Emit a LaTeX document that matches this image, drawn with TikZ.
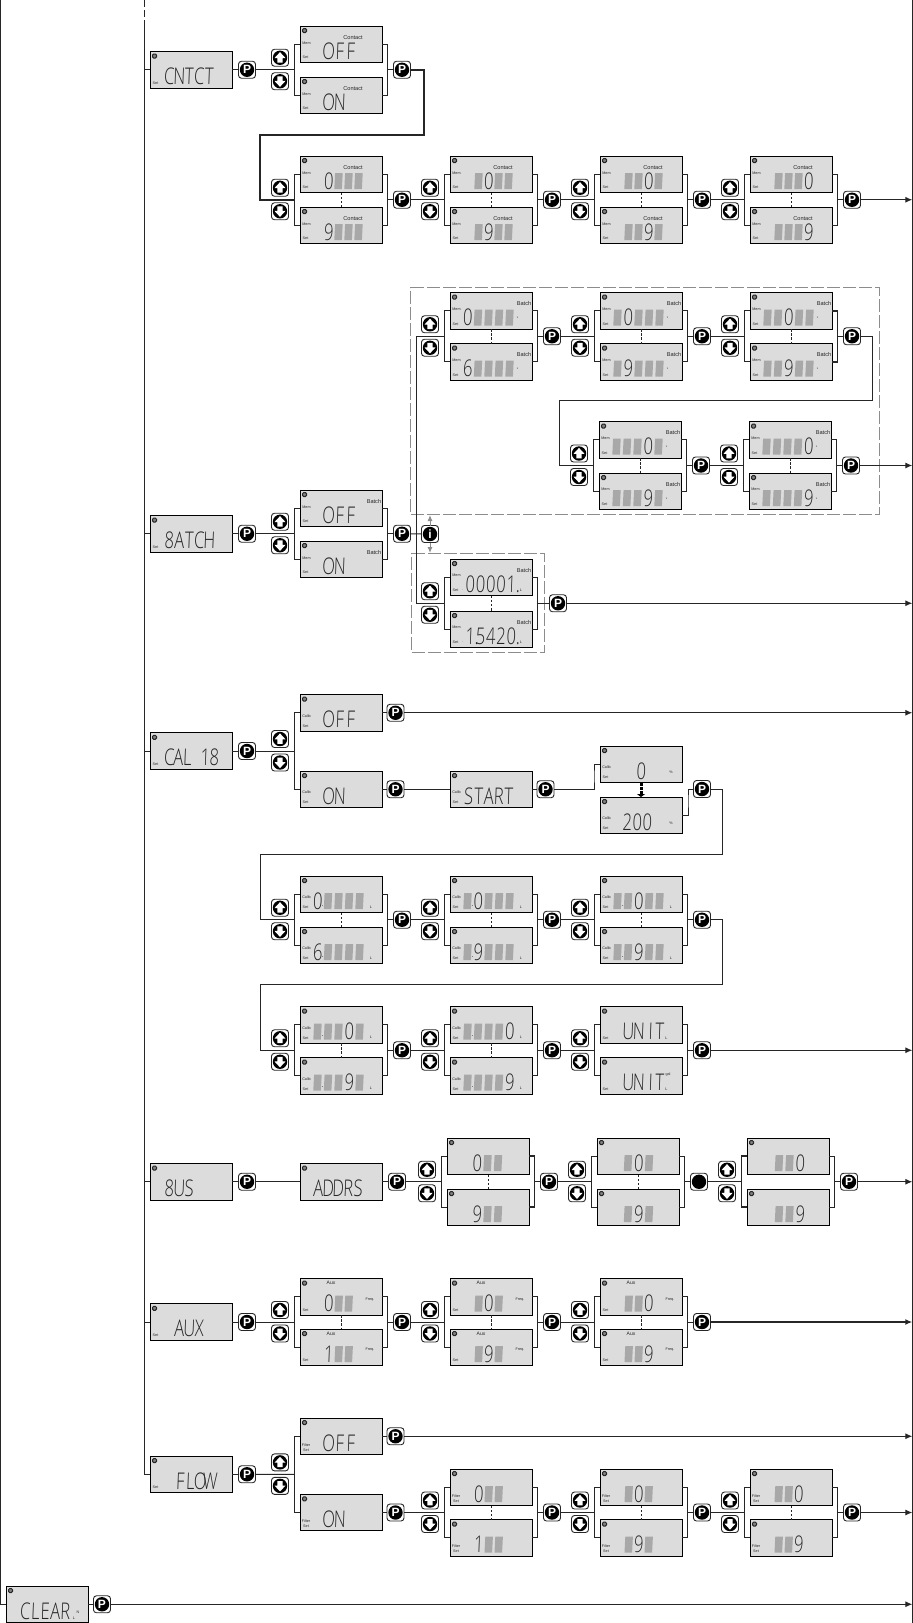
\documentclass[tikz,border=0pt]{standalone}
\usepackage{fontspec}
\usepackage{graphicx}
\setmainfont{Liberation Sans}
\newfontfamily\lcdf[FakeSlant=0.05]{Open Sans Light}
\usetikzlibrary{calc,arrows.meta}
\definecolor{ink}{HTML}{262626}
\definecolor{lcdbg}{HTML}{DCDCDC}
\definecolor{segc}{HTML}{A8A8A8}
\definecolor{dashc}{HTML}{8C8C8C}
\tikzset{
  wire/.style={draw=ink,line width=1pt,line join=miter},
  heavy/.style={draw=ink,line width=1.7pt},
  arrowwire/.style={wire,-{Latex[length=7pt,width=6pt]}},
  lcdbox/.style={draw=black,fill=lcdbg,line width=0.9pt,minimum width=82pt,minimum height=36.5pt,inner sep=0pt,outer sep=0pt},
  cornerdot/.style={rectangle,rounded corners=1.2pt,draw=ink,fill=gray,line width=1pt,minimum size=4pt,inner sep=0pt},
  seg/.style={fill=segc},
  lcdtxt/.style={font=\fontsize{23}{23}\lcdf,text=ink,inner sep=0pt,anchor=base},
  lbl/.style={font=\fontsize{3.7}{4}\selectfont,text=ink,inner sep=0pt},
  toplbl/.style={font=\fontsize{5.6}{6}\selectfont,text=ink,inner sep=0pt},
  btnbox/.style={rectangle,rounded corners=3pt,draw=ink,fill=white,line width=.9pt,minimum size=17pt,inner sep=0pt,outer sep=0pt},
  btntxt/.style={text=white,font=\fontsize{12}{12}\selectfont\bfseries,inner sep=0pt},
  dbox/.style={draw=dashc,line width=1pt,dash pattern=on 13pt off 3pt,anchor=north west,inner sep=0pt},
  dashlink/.style={draw=ink,line width=.9pt,dash pattern=on 2.5pt off 1.7pt},
}
\newcount\lbc
\newcommand\lab[4][lbl]{\global\advance\lbc by 1 \node[#1] (lb\the\lbc) at (#2,#3) {#4};}
\def\blankc{-}
% display: name,x,y,decor,start,pitch,cells
\newcommand\lcd[7]{%
  \node[lcdbox,anchor=north west] (#1) at (#2,#3) {};
  \begin{scope}[shift={(#2,#3)}]
    \node[cornerdot] (#1-k) at (4.5,4.5) {};
    \foreach \cc [count=\ii from 0] in {#7}{%
      \pgfmathsetmacro\lcdx{#5+#6*\ii}%
      \ifx\cc\blankc
        \fill[seg,shift={(\lcdx,25)}] (-4.2,8) -- (3.4,8) -- (4.2,-8) -- (-3.4,-8) -- cycle;
      \else
        \node[lcdtxt] (#1-d\ii) at (\lcdx,33) {\scalebox{.72}[1]{\cc}};
      \fi}
    #4
  \end{scope}}
\newcommand\dS{\lab{5.5}{31.5}{Set}}
\newcommand\dN{}
\newcommand\dC{\lab{6.5}{17}{Mem}\dS\lab[toplbl]{53}{12}{Contact}}
\newcommand\dB{\lab{6.5}{16.5}{Mem}\dS\lab[toplbl]{74}{11}{Batch}\lab{67.5}{26}{*}}
\newcommand\dBL{\lab{6.5}{16.5}{Mem}\dS\lab[toplbl]{74}{11}{Batch}\lab{71}{31}{L}}
\newcommand\dK{\lab{6.5}{21.5}{Calib}\dS}
\newcommand\dKL{\dK\lab{71}{31}{L}\lab[lbl,font=\fontsize{7}{7}\selectfont]{22.5}{30}{.}}
\newcommand\dKP{\dK\lab{71}{26.5}{\%}}
\newcommand\dF{\lab{6}{27}{Filter}\lab{6}{32}{Set}}
\newcommand\dA{\dS\lab[lbl,font=\fontsize{5}{5}\selectfont]{31}{4.5}{Aux}\lab{70}{21}{Freq.}}
% buttons
\newcommand\pb[2]{\node[btnbox] (#1) at #2 {}; \fill[black] (#1.center) circle (7.2pt);
  \node[btntxt] (#1-t) at (#1.center) {P};}
\newcommand\ib[2]{\node[btnbox] (#1) at #2 {}; \fill[black] (#1.center) circle (7.2pt);
  \node[btntxt] (#1-t) at (#1.center) {i};}
\newcommand\kb[2]{\node[btnbox] (#1) at #2 {}; \fill[black] (#1.center) circle (7.2pt);}
\newcommand\upb[2]{\node[btnbox] (#1) at #2 {}; \fill[black] (#1.center) circle (7.2pt);
  \begin{scope}[shift={(#1.center)}]
    \fill[white] (0,-5.6) -- (5.5,0.3) -- (2.6,0.3) -- (2.6,4.8) -- (-2.6,4.8) -- (-2.6,0.3) -- (-5.5,0.3) -- cycle;
  \end{scope}}
\newcommand\dnb[2]{\node[btnbox] (#1) at #2 {}; \fill[black] (#1.center) circle (7.2pt);
  \begin{scope}[shift={(#1.center)}]
    \fill[white] (0,5.6) -- (5.5,-0.3) -- (2.6,-0.3) -- (2.6,-4.8) -- (-2.6,-4.8) -- (-2.6,-0.3) -- (-5.5,-0.3) -- cycle;
  \end{scope}}
% pair: name,x,y1,y2,decor,start,pitch,A,B
\newcommand\pairbase[9]{%
  \lcd{#1-a}{#2}{#3}{#5}{#6}{#7}{#8}
  \lcd{#1-b}{#2}{#4}{#5}{#6}{#7}{#9}
  \coordinate (#1-j) at ($(#1-a.south)!.5!(#1-b.north)$);
  \coordinate (#1-l) at ($(#1-j)+(-46.5,0)$);
  \coordinate (#1-r) at ($(#1-j)+(46.5,0)$);
  \draw[wire] (#1-a.west) -| (#1-l) |- (#1-b.west);
  \upb{#1-up}{($(#1-j)+(-61,-12)$)}
  \dnb{#1-dn}{($(#1-j)+(-61,11.5)$)}}
\newcommand\rbr[1]{\draw[wire] (#1-a.east) -| (#1-r) |- (#1-b.east);}
\newcommand\plink[1]{\draw[dashlink] (#1-a.south) -- (#1-b.north);}
\newcommand\pair[9]{\pairbase{#1}{#2}{#3}{#4}{#5}{#6}{#7}{#8}{#9}\rbr{#1}\plink{#1}}
\newcommand\pnext[1]{\pb{p#1}{($(#1-j)+(61,0)$)}\draw[wire] (#1-r) -- (p#1.west);}
\newcommand\toR[1]{\draw[arrowwire] (#1) -- (#1 -| rr);}
\begin{document}
\begin{tikzpicture}[x=1pt,y=-1pt]
\useasboundingbox (0,0) rectangle (913,1623);
\coordinate (rr) at (912.3,0);
\coordinate (rb) at (912.3,1623);
\coordinate (ft) at (0.7,0);
\coordinate (lt0) at (144,0);
\coordinate (lt) at (144,20);
\draw[wire,dash pattern=on 7pt off 3pt] (lt0) -- (lt);
\draw[wire] (rr) -- (rb);

%% CNTCT
\lcd{m1}{150}{51.5}{\dS}{19}{10}{C,N,T,C,T}
\pb{pm1}{($(m1.east)+(15,0)$)}
\pairbase{c1}{300}{26}{77}{\dC}{28.5}{11}{O,F,F}{O,N}\rbr{c1}
\pnext{c1}
\pair{c2}{300}{156}{207}{\dC}{28.5}{10}{0,-,-,-}{9,-,-,-}\pnext{c2}
\pair{c3}{450}{156}{207}{\dC}{28.5}{10}{-,0,-,-}{-,9,-,-}\pnext{c3}
\pair{c4}{600}{156}{207}{\dC}{28.5}{10}{-,-,0,-}{-,-,9,-}\pnext{c4}
\pair{c5}{750}{156}{207}{\dC}{28.5}{10}{-,-,-,0}{-,-,-,9}\pnext{c5}
\draw[wire] (m1.east) -- (pm1.west);
\draw[wire] (pm1.east) -- (c1-l);
\coordinate (k1) at (424,135);
\coordinate (k2) at (260,135);
\draw[heavy] (pc1.east) -| (k1) -- (k2) |- (c2-l);
\draw[wire] (pc2.east) -- (c3-l);
\draw[wire] (pc3.east) -- (c4-l);
\draw[wire] (pc4.east) -- (c5-l);
\toR{pc5.east}

%% BATCH
\node[dbox,minimum width=469pt,minimum height=227pt] (bx1) at (410,287) {};
\node[dbox,minimum width=133pt,minimum height=99pt] (bx2) at (411,553) {};
\lcd{m2}{150}{515.5}{\dS}{19}{10}{8,A,T,C,H}
\pb{pm2}{($(m2.east)+(15,0)$)}
\pairbase{b0}{300}{490}{541}{\lab{6.5}{17}{Mem}\dS\lab[toplbl]{74}{11}{Batch}}{28.5}{11}{O,F,F}{O,N}\rbr{b0}
\pnext{b0}
\pair{b1}{450}{292.5}{343.5}{\dB}{17.5}{10.5}{0,-,-,-,-}{6,-,-,-,-}\pnext{b1}
\pair{b2}{600}{292.5}{343.5}{\dB}{17.5}{10.5}{-,0,-,-,-}{-,9,-,-,-}\pnext{b2}
\pair{b3}{750}{292.5}{343.5}{\dB}{17.5}{10.5}{-,-,0,-,-}{-,-,9,-,-}\pnext{b3}
\draw[heavy] (b3-a.east) -| (b3-r) |- (b3-b.east);
\pair{b4}{599}{421.5}{473}{\dB}{17.5}{10.5}{-,-,-,0,-}{-,-,-,9,-}\pnext{b4}
\pair{b5}{749}{421.5}{473}{\dB}{17.5}{10.5}{-,-,-,-,0}{-,-,-,-,9}\pnext{b5}
\pair{b6}{450}{559}{611}{\dBL\lab{12.5}{31}{.}}{20}{10.3}{0,0,0,0,1\rlap{.}}{1\rlap{.},5,4,2,0\rlap{.}}
\pb{pb6}{($(b6-r)+(20.5,0)$)}
\draw[wire] (b6-r) -- (pb6.west);
\ib{ibt}{(430,534)}
\draw[wire] (m2.east) -- (pm2.west);
\draw[wire] (pm2.east) -- (b0-l);
\draw[wire] (pb0.east) -- (ibt.west);
\coordinate (bv) at (416,534);
\draw[wire] (bv) |- (b1-l);
\draw[wire] (bv) |- (b6-l);
\draw[draw=dashc,line width=1pt,-{Latex[length=6pt,width=5pt]}] (ibt.north) -- (bx1.south -| ibt);
\draw[draw=dashc,line width=1pt,-{Latex[length=6pt,width=5pt]}] (ibt.south) -- (bx2.north -| ibt);
\draw[wire] (pb1.east) -- (b2-l);
\draw[wire] (pb2.east) -- (b3-l);
\coordinate (k3) at (872.5,400);
\coordinate (k4) at (559,400);
\draw[wire] (pb3.east) -| (k3) -- (k4) |- (b4-l);
\draw[wire] (pb4.east) -- (b5-l);
\toR{pb5.east}
\toR{pb6.east}

%% CALIB
\lcd{m3}{150}{732.75}{\dS}{19}{9}{C,A,L,{},1,8}
\pb{pm3}{($(m3.east)+(15,0)$)}
\pairbase{k0}{300}{694.5}{771}{\dK}{28.5}{11}{O,F,F}{O,N}
\draw[wire] (m3.east) -- (pm3.west);
\draw[wire] (pm3.east) -- (k0-l);
\pb{pk0a}{($(k0-a.east)+(13.5,0)$)}
\pb{pk0b}{($(k0-b.east)+(13.5,0)$)}
\draw[wire] (k0-a.east) -- (pk0a.west);
\draw[wire] (k0-b.east) -- (pk0b.west);
\toR{pk0a.east}
\lcd{st}{450}{771}{\dK}{18.5}{10}{S,T,A,R,T}
\draw[wire] (pk0b.east) -- (st.west);
\pb{pst}{($(st.east)+(13.5,0)$)}
\draw[wire] (st.east) -- (pst.west);
\lcd{z0}{600}{746}{\dKP}{41}{10}{0}
\lcd{z1}{600}{797}{\dKP}{27}{10}{2,0,0}
\draw[black,line width=3pt,dash pattern=on 3pt off 1pt,-{Triangle[width=8pt,length=3pt]}] (z0.south) -- (z1.north);
\coordinate (q1) at (594,776);
\draw[wire] (pst.east) -| (q1) |- (z0.west);
\pb{pz}{(702,789)}
\coordinate (q2) at (688,800);
\draw[wire] (z1.east) -| (q2) |- (pz.west);
\pair{k1p}{300}{876}{927}{\dKL}{17.5}{10.5}{0,-,-,-,-}{6,-,-,-,-}\pnext{k1p}
\pair{k2p}{450}{876}{927}{\dKL}{17.5}{10.5}{-,0,-,-,-}{-,9,-,-,-}\pnext{k2p}
\pair{k3p}{600}{876}{927}{\dKL}{17.5}{10.5}{-,-,0,-,-}{-,-,9,-,-}\pnext{k3p}
\coordinate (q3) at (722.6,854);
\coordinate (q4) at (260,854);
\draw[wire] (pz.east) -| (q3) -- (q4) |- (k1p-l);
\draw[wire] (pk1p.east) -- (k2p-l);
\draw[wire] (pk2p.east) -- (k3p-l);
\pair{k4p}{300}{1006.5}{1057.5}{\dKL}{17.5}{10.5}{-,-,-,0,-}{-,-,-,9,-}\pnext{k4p}
\pair{k5p}{450}{1006.5}{1057.5}{\dKL}{17.5}{10.5}{-,-,-,-,0}{-,-,-,-,9}\pnext{k5p}
\pairbase{k6p}{600}{1006.5}{1057.5}{\dS\lab{66.5}{32}{L}}{28}{10.5}{U,N,\hspace{4pt}I,T}{U,N,\hspace{4pt}I,T}\rbr{k6p}
\lab{668}{1074.5}{gal}
\pnext{k6p}
\coordinate (q5) at (722.6,984);
\coordinate (q6) at (260,984);
\draw[wire] (pk3p.east) -| (q5) -- (q6) |- (k4p-l);
\draw[wire] (pk4p.east) -- (k5p-l);
\draw[wire] (pk5p.east) -- (k6p-l);
\toR{pk6p.east}

%% BUS
\lcd{m4}{150}{1163.5}{\dN}{19}{10}{8,U,S}
\pb{pm4}{($(m4.east)+(15,0)$)}
\lcd{adr}{300}{1163.5}{\dN}{18}{10}{A,D,D,R,S}
\pb{padr}{($(adr.east)+(15,0)$)}
\draw[wire] (m4.east) -- (pm4.west);
\draw[wire] (pm4.east) -- (adr.west);
\draw[wire] (adr.east) -- (padr.west);
\pair{u1}{447}{1138}{1189}{\dN}{30}{10.5}{0,-,-}{9,-,-}\pnext{u1}
\draw[heavy] (u1-a.east) -| (u1-r) |- (u1-b.east);
\pair{u2}{597}{1138}{1189}{\dN}{31}{10.5}{-,0,-}{-,9,-}
\kb{ku2}{($(u2-j)+(61,0)$)}
\draw[wire] (u2-r) -- (ku2.west);
\pairbase{u3}{747}{1138}{1189}{\dN}{32}{10.5}{-,-,0}{-,-,9}\rbr{u3}\pnext{u3}
\draw[heavy] (u3-a.west) -| (u3-l) |- (u3-b.west);
\draw[wire] (padr.east) -- (u1-l);
\draw[wire] (pu1.east) -- (u2-l);
\draw[wire] (ku2.east) -- (u3-l);
\toR{pu3.east}

%% AUX
\lcd{m5}{150}{1303.75}{\dS}{29}{10}{A,U,X}
\pb{pm5}{($(m5.east)+(15,0)$)}
\pair{a1}{300}{1278.5}{1329}{\dA}{28.7}{10}{0,-,-}{1,-,-}\pnext{a1}
\pair{a2}{450}{1278.5}{1329}{\dA}{28.7}{10}{-,0,-}{-,9,-}\pnext{a2}
\pair{a3}{600}{1278.5}{1329}{\dA}{28.7}{10}{-,-,0}{-,-,9}\pnext{a3}
\draw[wire] (m5.east) -- (pm5.west);
\draw[wire] (pm5.east) -- (a1-l);
\draw[wire] (pa1.east) -- (a2-l);
\draw[wire] (pa2.east) -- (a3-l);
\draw[heavy,-{Latex[length=7pt,width=6pt]}] (pa3.east) -- (pa3.east -| rr);

%% FLOW
\lcd{m6}{150}{1456}{\dS}{30}{10}{F,L,O,W}
\pb{pm6}{($(m6.east)+(15,0)$)}
\pairbase{f0}{300}{1418}{1494.25}{\dF}{28.5}{11}{O,F,F}{O,N}
\draw[wire] (m6.east) -- (pm6.west);
\draw[wire] (pm6.east) -- (f0-l);
\pb{pf0a}{($(f0-a.east)+(13.5,0)$)}
\pb{pf0b}{($(f0-b.east)+(13.5,0)$)}
\draw[wire] (f0-a.east) -- (pf0a.west);
\draw[wire] (f0-b.east) -- (pf0b.west);
\toR{pf0a.east}
\pair{f1}{450}{1469}{1519.5}{\dF}{28.7}{10}{0,-,-}{1,-,-}\pnext{f1}
\pair{f2}{600}{1469}{1519.5}{\dF}{28.7}{10}{-,0,-}{-,9,-}\pnext{f2}
\pair{f3}{750}{1469}{1519.5}{\dF}{28.7}{10}{-,-,0}{-,-,9}\pnext{f3}
\draw[wire] (pf0b.east) -- (f1-l);
\draw[wire] (pf1.east) -- (f2-l);
\draw[wire] (pf2.east) -- (f3-l);
\toR{pf3.east}

%% CLEAR
\lcd{m7}{6}{1586}{\lab{68}{32}{L}\lab{72}{26}{N}}{19}{10}{C,L,E,A,R}
\pb{pm7}{($(m7.east)+(14,0)$)}
\draw[wire] (m7.east) -- (pm7.west);
\toR{pm7.east}

%% main bus lines
\draw[wire] (lt) |- (m6.west);
\draw[wire] (m1.west -| lt) -- (m1.west);
\draw[wire] (m2.west -| lt) -- (m2.west);
\draw[wire] (m3.west -| lt) -- (m3.west);
\draw[wire] (m4.west -| lt) -- (m4.west);
\draw[wire] (m5.west -| lt) -- (m5.west);
\draw[wire] (ft) |- (m7.west);
\end{tikzpicture}
\end{document}
